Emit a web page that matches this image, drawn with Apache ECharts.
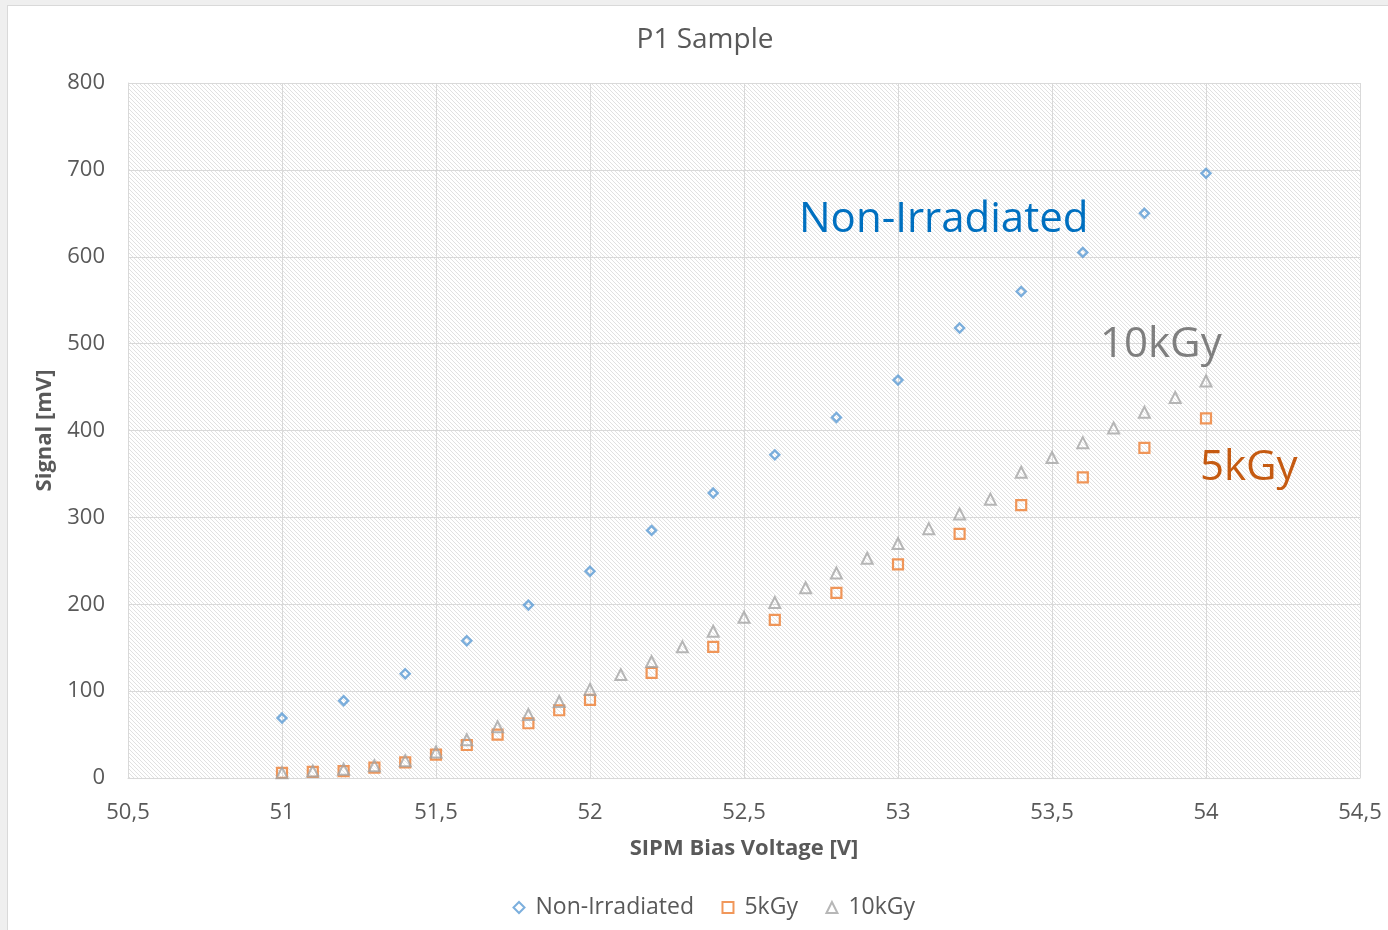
<!DOCTYPE html>
<html>
<head>
<meta charset="utf-8">
<title>P1 Sample</title>
<script src="https://cdn.jsdelivr.net/npm/echarts@6/dist/echarts.min.js"></script>
<style>
  html, body { margin: 0; padding: 0; width: 1388px; height: 930px; overflow: hidden; background: #efefef; }
  #frame { position: absolute; left: 7px; top: 5px; width: 1390px; height: 935px; background: #ffffff; border: 1px solid #d9d9d9; box-sizing: border-box; }
  #chart { position: absolute; left: 0; top: 0; width: 1388px; height: 930px; }
</style>
</head>
<body>
<div id="frame"></div>
<div id="chart"></div>
<script>
// SiPM bias voltage sweep [V] and measured signal [mV]
const voltNonIrr = [51.0, 51.2, 51.4, 51.6, 51.8, 52.0, 52.2, 52.4, 52.6, 52.8, 53.0, 53.2, 53.4, 53.6, 53.8, 54.0];
const signalNonIrr = [69, 89, 120, 158, 199, 238, 285, 328, 372, 415, 458, 518, 560, 605, 650, 696];

const volt5k = [51.0, 51.1, 51.2, 51.3, 51.4, 51.5, 51.6, 51.7, 51.8, 51.9, 52.0, 52.2, 52.4, 52.6, 52.8, 53.0, 53.2, 53.4, 53.6, 53.8, 54.0];
const signal5k = [6, 7, 8, 12, 18, 27, 38, 50, 63, 78, 90, 121, 151, 182, 213, 246, 281, 314, 346, 380, 414];

const volt10k = [51.0, 51.1, 51.2, 51.3, 51.4, 51.5, 51.6, 51.7, 51.8, 51.9, 52.0, 52.1, 52.2, 52.3, 52.4, 52.5, 52.6, 52.7, 52.8, 52.9, 53.0, 53.1, 53.2, 53.3, 53.4, 53.5, 53.6, 53.7, 53.8, 53.9, 54.0];
const signal10k = [6, 8, 10, 14, 20, 30, 44, 59, 73, 88, 102, 119, 134, 151, 169, 185, 202, 219, 236, 253, 270, 287, 304, 321, 352, 369, 386, 403, 421, 438, 457];

const seriesNames = ['Non-Irradiated', '5kGy', '10kGy'];
const xTickValues = [50.5, 51, 51.5, 52, 52.5, 53, 53.5, 54, 54.5];
const yTickValues = [0, 100, 200, 300, 400, 500, 600, 700, 800];

function pairs(xs, ys) { return xs.map((x, i) => [x, ys[i]]); }
// decimal comma for the voltage axis
function commaDecimal(v) { return String(Math.round(v * 10) / 10).replace('.', ','); }

// diagonal hatch fill for the plot area
const hatch = document.createElement('canvas');
hatch.width = 4; hatch.height = 4;
(function () {
  const c = hatch.getContext('2d');
  c.fillStyle = '#ffffff'; c.fillRect(0, 0, 4, 4);
  c.fillStyle = '#e1e1e1';
  for (let i = 0; i < 4; i++) c.fillRect(i, i, 1, 1);
})();

const FONT = '"Open Sans", "Noto Sans", sans-serif';
const TXT = '#595959';

const chart = echarts.init(document.getElementById('chart'), null, { renderer: 'canvas' });

const option = {
  animation: false,
  backgroundColor: 'transparent',
  textStyle: { fontFamily: FONT },
  title: {
    text: 'P1 Sample',
    left: 700, top: 21,
    textAlign: 'center',
    textStyle: { fontFamily: FONT, fontSize: 28, fontWeight: 'normal', color: TXT }
  },
  grid: {
    left: 128, top: 83, width: 1232, height: 695,
    show: true,
    borderWidth: 0,
    backgroundColor: { image: hatch, repeat: 'repeat' }
  },
  legend: {
    data: seriesNames,
    left: 506, top: 891,
    itemWidth: 11, itemHeight: 11, itemGap: 26,
    formatter: name => ' ' + name,
    textStyle: { fontFamily: FONT, fontSize: 23, color: TXT }
  },
  xAxis: {
    type: 'value',
    min: xTickValues[0], max: xTickValues[xTickValues.length - 1], interval: 0.5,
    name: 'SIPM Bias Voltage [V]',
    nameLocation: 'middle', nameGap: 60,
    nameTextStyle: { fontFamily: FONT, fontSize: 22, fontWeight: 'bold', color: TXT },
    axisLine: { show: true, lineStyle: { color: '#d9d9d9', width: 1 } },
    axisTick: { show: false },
    axisLabel: { margin: 24, fontFamily: FONT, fontSize: 22, color: TXT, formatter: commaDecimal },
    splitLine: { show: true, lineStyle: { color: '#d9d9d9', width: 1 } }
  },
  yAxis: {
    type: 'value',
    min: yTickValues[0], max: yTickValues[yTickValues.length - 1], interval: 100,
    name: 'Signal [mV]',
    nameLocation: 'middle', nameGap: 72, nameRotate: 90,
    nameTextStyle: { fontFamily: FONT, fontSize: 22, fontWeight: 'bold', color: TXT },
    axisLine: { show: true, lineStyle: { color: '#d9d9d9', width: 1 } },
    axisTick: { show: false },
    axisLabel: { margin: 23, fontFamily: FONT, fontSize: 22, color: TXT },
    splitLine: { show: true, lineStyle: { color: '#d9d9d9', width: 1 } }
  },
  series: [
    {
      name: seriesNames[0], type: 'scatter', symbol: 'diamond', symbolSize: 9,
      itemStyle: { color: 'none', borderColor: '#5b9bd5', borderWidth: 2.4 },
      data: pairs(voltNonIrr, signalNonIrr), z: 3
    },
    {
      name: seriesNames[1], type: 'scatter', symbol: 'rect', symbolSize: 10,
      itemStyle: { color: 'none', borderColor: '#ed7d31', borderWidth: 2.2 },
      data: pairs(volt5k, signal5k), z: 3
    },
    {
      name: seriesNames[2], type: 'scatter', symbol: 'triangle', symbolSize: 11,
      itemStyle: { color: 'none', borderColor: '#a5a5a5', borderWidth: 2 },
      data: pairs(volt10k, signal10k), z: 4
    }
  ],
  graphic: [
    { type: 'text', left: 799, top: 199, z: 10,
      style: { text: 'Non-Irradiated', fill: '#0070c0', font: '42px ' + FONT } },
    { type: 'text', left: 1100, top: 324, z: 10,
      style: { text: '10kGy', fill: '#7f7f7f', font: '42px ' + FONT } },
    { type: 'text', left: 1200, top: 447, z: 10,
      style: { text: '5kGy', fill: '#c55a11', font: '42px ' + FONT } }
  ]
};

chart.setOption(option);
</script>
</body>
</html>
